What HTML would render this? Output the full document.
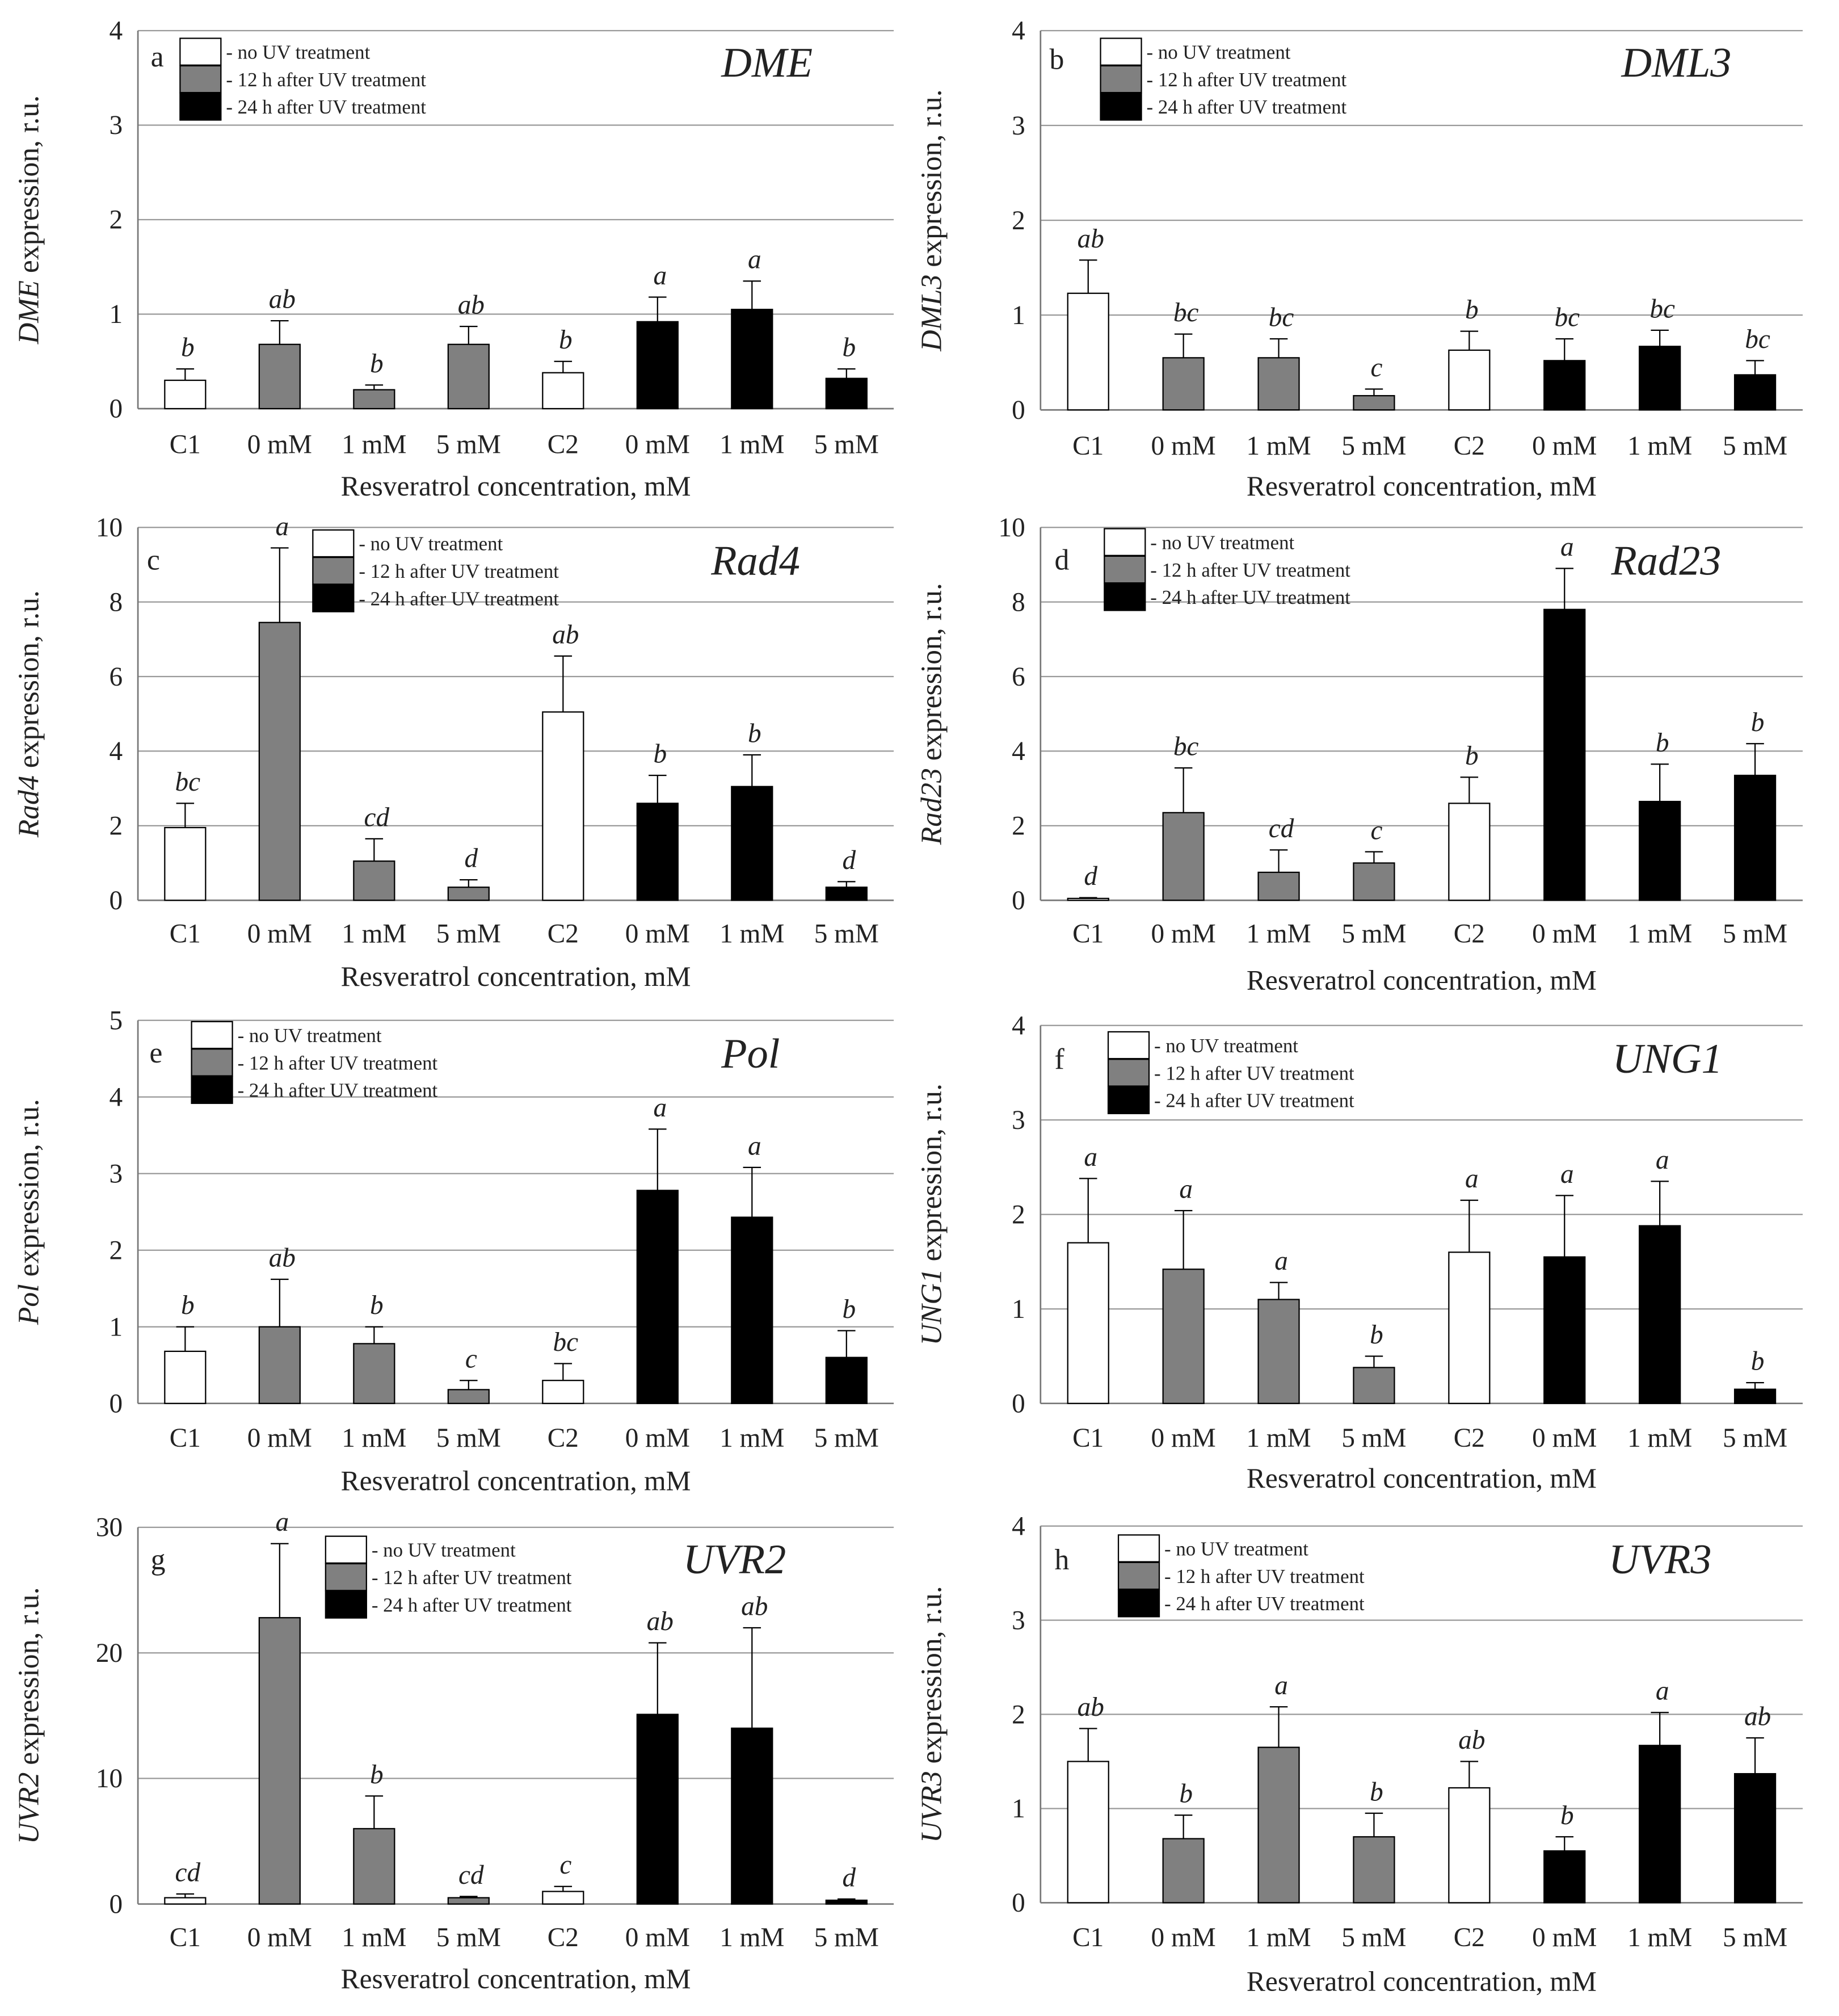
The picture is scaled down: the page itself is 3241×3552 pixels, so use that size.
<!DOCTYPE html>
<html><head><meta charset="utf-8"><title>Gene expression panels</title>
<style>
html,body{margin:0;padding:0;background:#fff;}
svg{display:block;}
text{font-family:"Liberation Serif",serif;fill:#222;}
</style></head>
<body>
<svg id="chart" width="3241" height="3552" viewBox="0 0 1440.4 1578.7" xmlns="http://www.w3.org/2000/svg"></svg>
<script>
const categories = ["C1","0 mM","1 mM","5 mM","C2","0 mM","1 mM","5 mM"];
const valsA = [0.3,0.68,0.2,0.68,0.38,0.92,1.05,0.32];
const errA  = [0.12,0.25,0.05,0.19,0.12,0.26,0.3,0.1];
const letA  = ["b","ab","b","ab","b","a","a","b"];
const valsB = [1.23,0.55,0.55,0.15,0.63,0.52,0.67,0.37];
const errB  = [0.35,0.25,0.2,0.07,0.2,0.23,0.17,0.15];
const letB  = ["ab","bc","bc","c","b","bc","bc","bc"];
const valsC = [1.95,7.45,1.05,0.35,5.05,2.6,3.05,0.35];
const errC  = [0.65,2.0,0.6,0.2,1.5,0.75,0.85,0.15];
const letC  = ["bc","a","cd","d","ab","b","b","d"];
const valsD = [0.05,2.35,0.75,1.0,2.6,7.8,2.65,3.35];
const errD  = [0.02,1.2,0.6,0.3,0.7,1.1,1.0,0.85];
const letD  = ["d","bc","cd","c","b","a","b","b"];
const valsE = [0.68,1.0,0.78,0.18,0.3,2.78,2.43,0.6];
const errE  = [0.32,0.62,0.22,0.12,0.22,0.8,0.65,0.35];
const letE  = ["b","ab","b","c","bc","a","a","b"];
const valsF = [1.7,1.42,1.1,0.38,1.6,1.55,1.88,0.15];
const errF  = [0.68,0.62,0.18,0.12,0.55,0.65,0.47,0.07];
const letF  = ["a","a","a","b","a","a","a","b"];
const valsG = [0.5,22.8,6.0,0.5,1.0,15.1,14.0,0.3];
const errG  = [0.3,5.9,2.6,0.1,0.4,5.7,8.0,0.1];
const letG  = ["cd","a","b","cd","c","ab","ab","d"];
const valsH = [1.5,0.68,1.65,0.7,1.22,0.55,1.67,1.37];
const errH  = [0.35,0.25,0.43,0.25,0.28,0.15,0.35,0.38];
const letH  = ["ab","b","a","b","ab","b","a","ab"];
const ticksA = [0,1,2,3,4];
const ticksC = [0,2,4,6,8,10];
const ticksE = [0,1,2,3,4,5];
const ticksG = [0,10,20,30];
const legendLabels = ["- no UV treatment","- 12 h after UV treatment","- 24 h after UV treatment"];
const groupFill = ["#ffffff","#808080","#000000"];
const groupOf = [0,1,1,1,0,2,2,2];

const NS="http://www.w3.org/2000/svg";
const svg=document.getElementById('chart');
function el(tag,attrs,parent){const e=document.createElementNS(NS,tag);for(const k in attrs)e.setAttribute(k,attrs[k]);(parent||svg).appendChild(e);return e;}

const panels=[
 {id:"a",gene:"DME",vals:valsA,err:errA,let:letA,ticks:ticksA,x0:108,x1:700,yTop:24,yBot:320,lx:141,ly:30,gx:565,gy:60,px:118,py:52,xl:355,xt:388},
 {id:"b",gene:"DML3",vals:valsB,err:errB,let:letB,ticks:ticksA,x0:815,x1:1412,yTop:24,yBot:321,lx:862,ly:30,gx:1270,gy:60,px:822,py:54,xl:356,xt:388},
 {id:"c",gene:"Rad4",vals:valsC,err:errC,let:letC,ticks:ticksC,x0:108,x1:700,yTop:413,yBot:705,lx:245,ly:415,gx:557,gy:450,px:115,py:446,xl:738,xt:772},
 {id:"d",gene:"Rad23",vals:valsD,err:errD,let:letD,ticks:ticksC,x0:815,x1:1412,yTop:413,yBot:705,lx:865,ly:414,gx:1262,gy:450,px:826,py:446,xl:738,xt:775},
 {id:"e",gene:"Pol",vals:valsE,err:errE,let:letE,ticks:ticksE,x0:108,x1:700,yTop:799,yBot:1099,lx:150,ly:800,gx:565,gy:836,px:117,py:832,xl:1133,xt:1167},
 {id:"f",gene:"UNG1",vals:valsF,err:errF,let:letF,ticks:ticksA,x0:815,x1:1412,yTop:803,yBot:1099,lx:868,ly:808,gx:1263,gy:840,px:826,py:837,xl:1133,xt:1165},
 {id:"g",gene:"UVR2",vals:valsG,err:errG,let:letG,ticks:ticksG,x0:108,x1:700,yTop:1196,yBot:1491,lx:255,ly:1203,gx:535,gy:1232,px:118,py:1229,xl:1524,xt:1557},
 {id:"h",gene:"UVR3",vals:valsH,err:errH,let:letH,ticks:ticksA,x0:815,x1:1412,yTop:1195,yBot:1490,lx:876,ly:1202,gx:1260,gy:1232,px:826,py:1229,xl:1524,xt:1559}
];

panels.forEach(p=>{
  const g=el('g',{});
  
  
  const ymax=p.ticks[p.ticks.length-1];
  const Y=v=>p.yBot-(v/ymax)*(p.yBot-p.yTop);
  const step=(p.x1-p.x0)/categories.length;
  const X=i=>p.x0+step*(i+0.5);
  // gridlines & ticks
  p.ticks.forEach(t=>{
    if(t>0){const gl=el('line',{x1:p.x0,x2:p.x1,y1:Y(t),y2:Y(t),stroke:'#999','stroke-width':1},g);
      }
    const tl=el('text',{x:p.x0-12,y:Y(t)+7,'text-anchor':'end','font-size':21},g);
    
    tl.textContent=t;
  });
  const ax=el('line',{x1:p.x0,x2:p.x0,y1:p.yTop,y2:p.yBot,stroke:'#777','stroke-width':1.2},g);
  
  const bx=el('line',{x1:p.x0,x2:p.x1,y1:p.yBot,y2:p.yBot,stroke:'#777','stroke-width':1.2},g);
  
  // bars
  p.vals.forEach((v,i)=>{
    const bw=32, cx=X(i);
    const r=el('rect',{x:cx-bw/2,y:Y(v),width:bw,height:p.yBot-Y(v),fill:groupFill[groupOf[i]],stroke:'#000','stroke-width':1},g);
    
    const top=Y(v+p.err[i]);
    const e1=el('line',{x1:cx,x2:cx,y1:Y(v),y2:top,stroke:'#000','stroke-width':1},g);
    
    const e2=el('line',{x1:cx-7,x2:cx+7,y1:top,y2:top,stroke:'#000','stroke-width':1},g);
    
    const lt=el('text',{x:cx+2,y:top-10,'text-anchor':'middle','font-size':21,'font-style':'italic'},g);
    
    lt.textContent=p.let[i];
    const xl=el('text',{x:cx,y:p.xl,'text-anchor':'middle','font-size':21},g);
    
    xl.textContent=categories[i];
  });
  const xt=el('text',{x:(p.x0+p.x1)/2,y:p.xt,'text-anchor':'middle','font-size':22},g);
  
  xt.textContent="Resveratrol concentration, mM";
  const yc=(p.yTop+p.yBot)/2, yx=p.x0-78;
  const yt=el('text',{x:yx,y:yc,'text-anchor':'middle','font-size':23,transform:`rotate(-90 ${yx} ${yc})`},g);
  
  const ts=el('tspan',{'font-style':'italic'},yt);ts.textContent=p.gene;
  const ts2=el('tspan',{},yt);ts2.textContent=" expression, r.u.";
  const pl=el('text',{x:p.px,y:p.py,'font-size':23},g);
  
  pl.textContent=p.id;
  const gt=el('text',{x:p.gx,y:p.gy,'font-size':33,'font-style':'italic'},g);
  
  gt.textContent=p.gene;
  // legend
  const lg=el('g',{},g);
  
  legendLabels.forEach((lab,k)=>{
    const rr=el('rect',{x:p.lx,y:p.ly+k*21.5,width:32,height:21,fill:groupFill[k],stroke:'#000','stroke-width':1},lg);
    
    const tt=el('text',{x:p.lx+36,y:p.ly+k*21.5+16,'font-size':15.5},lg);
    
    tt.textContent=lab;
  });
});
</script>
</body></html>
